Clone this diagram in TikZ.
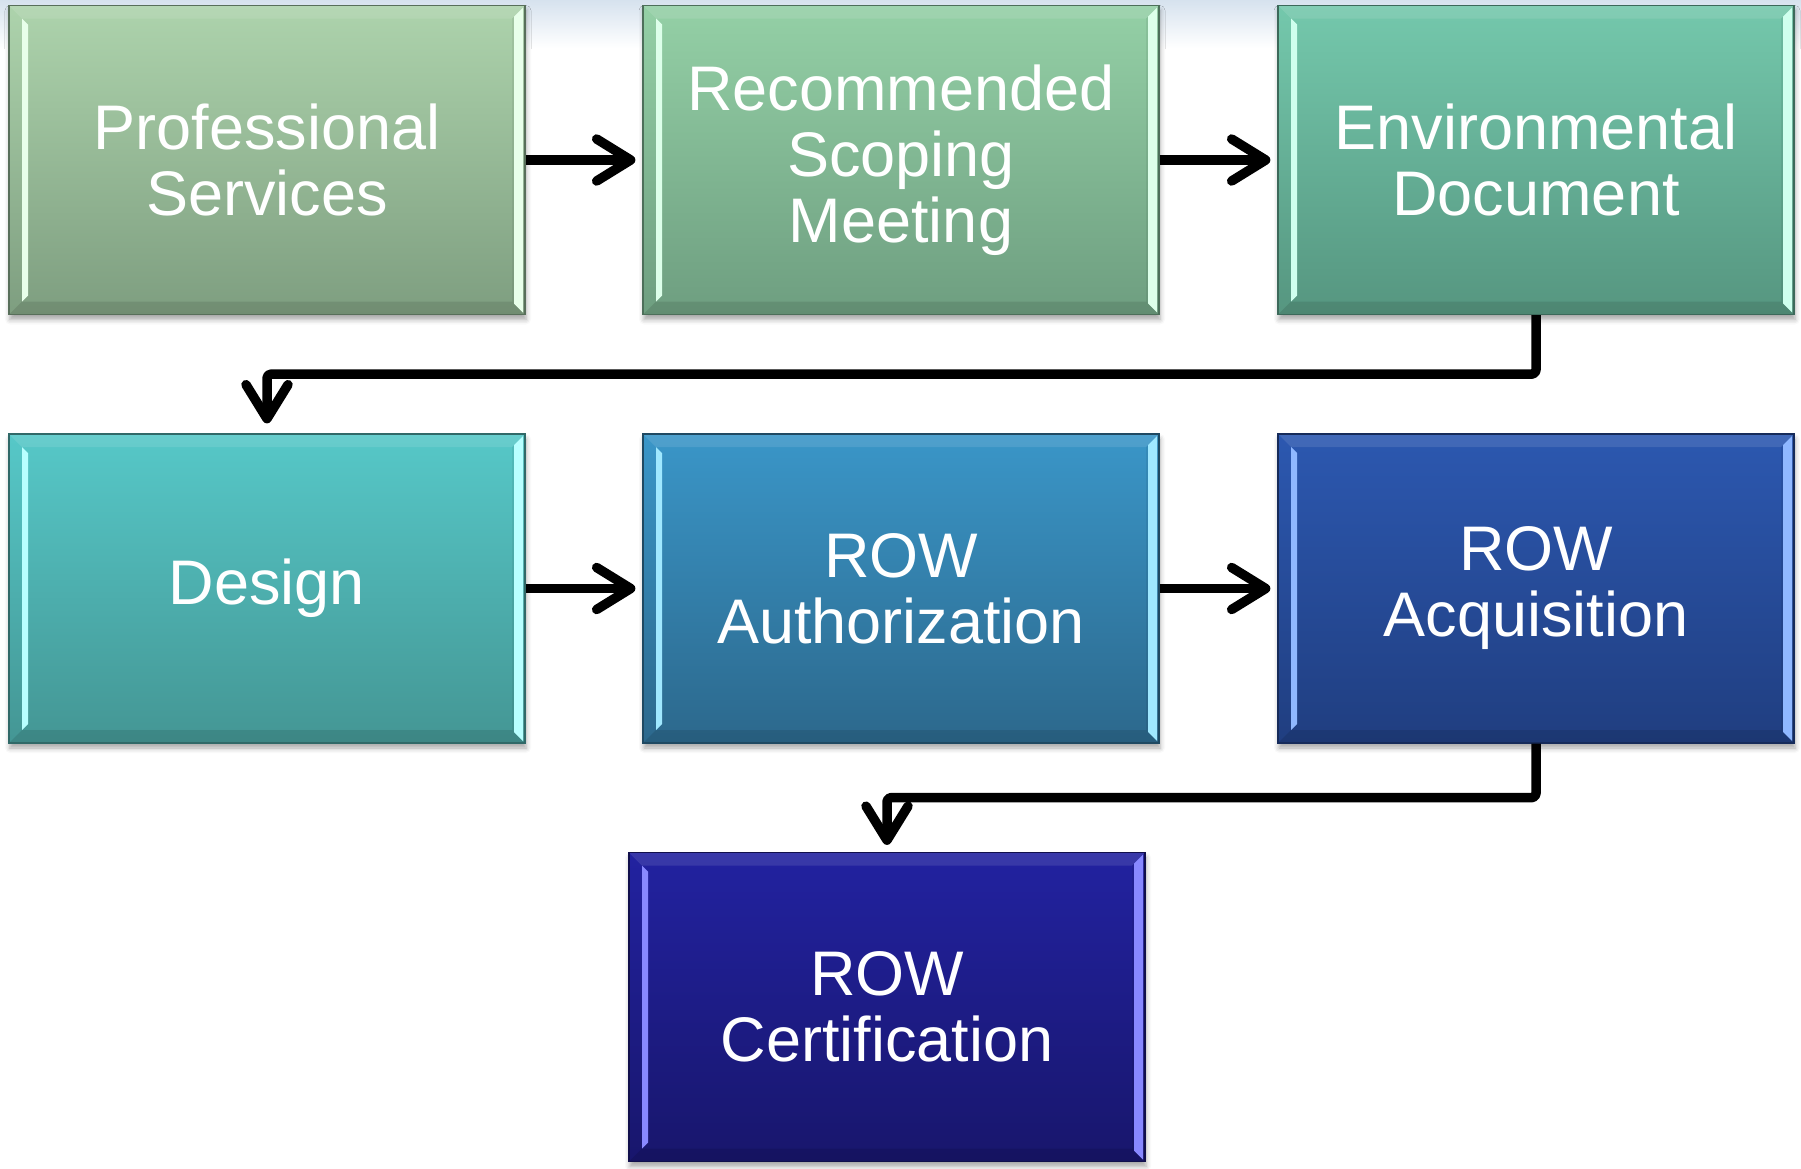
\documentclass[tikz,border=0pt]{standalone}
\usepackage{fontspec}
\setmainfont{Liberation Sans}
\usetikzlibrary{arrows.meta,shadows.blur}

\definecolor{aT}{HTML}{ADD3AC}\definecolor{aB}{HTML}{7E9E80}\definecolor{aL}{HTML}{E8FFEA}
\definecolor{bT}{HTML}{94D0A6}\definecolor{bB}{HTML}{6E9E80}\definecolor{bL}{HTML}{DDFFEA}
\definecolor{cT}{HTML}{74C8AC}\definecolor{cB}{HTML}{569680}\definecolor{cL}{HTML}{CFFFEE}
\definecolor{dT}{HTML}{56C8C8}\definecolor{dB}{HTML}{449694}\definecolor{dL}{HTML}{B8FFFF}
\definecolor{eT}{HTML}{3A96C8}\definecolor{eB}{HTML}{2C688C}\definecolor{eL}{HTML}{A0E8FF}
\definecolor{fT}{HTML}{2C58B0}\definecolor{fB}{HTML}{203E80}\definecolor{fL}{HTML}{90B8FF}
\definecolor{gT}{HTML}{2222A0}\definecolor{gB}{HTML}{18166C}\definecolor{gL}{HTML}{8888FF}
\definecolor{topglow}{HTML}{D6E2EE}

\tikzset{
  stepbox/.style={rectangle, minimum width=516pt, minimum height=309pt, inner sep=0pt,
    top color=#1T, bottom color=#1B, draw=#1B!70!black, line width=1.2pt,
    text=white, align=center, font=\fontsize{63}{66}\selectfont,
    blur shadow={shadow xshift=1pt, shadow yshift=-5pt, shadow blur radius=5pt, shadow opacity=35},
    path picture={
      % top bevel band
      \fill[white,opacity=0.10]
        (path picture bounding box.north west) -- (path picture bounding box.north east)
        -- ([xshift=-13pt,yshift=-13pt]path picture bounding box.north east)
        -- ([xshift=13pt,yshift=-13pt]path picture bounding box.north west) -- cycle;
      % bottom bevel band
      \fill[black,opacity=0.10]
        (path picture bounding box.south west) -- (path picture bounding box.south east)
        -- ([xshift=-13pt,yshift=13pt]path picture bounding box.south east)
        -- ([xshift=13pt,yshift=13pt]path picture bounding box.south west) -- cycle;
      % right bevel band
      \fill[black,opacity=0.06]
        (path picture bounding box.north east) -- (path picture bounding box.south east)
        -- ([xshift=-13pt,yshift=13pt]path picture bounding box.south east)
        -- ([xshift=-13pt,yshift=-13pt]path picture bounding box.north east) -- cycle;
      % left light stripe
      \fill[#1L]
        ([xshift=13pt,yshift=-13pt]path picture bounding box.north west)
        -- ([xshift=19pt,yshift=-19pt]path picture bounding box.north west)
        -- ([xshift=19pt,yshift=19pt]path picture bounding box.south west)
        -- ([xshift=13pt,yshift=13pt]path picture bounding box.south west) -- cycle;
      % right light stripe
      \fill[#1L]
        ([xshift=-2pt,yshift=-2pt]path picture bounding box.north east)
        -- ([xshift=-11pt,yshift=-11pt]path picture bounding box.north east)
        -- ([xshift=-11pt,yshift=11pt]path picture bounding box.south east)
        -- ([xshift=-2pt,yshift=2pt]path picture bounding box.south east) -- cycle;
    }},
  conn/.style={line width=9.5pt, draw=black, line join=round,
    -{Straight Barb[length=34pt,width=42pt,round]}},
}

\begin{document}
\begin{tikzpicture}[x=1pt,y=-1pt]
\useasboundingbox (0,0) rectangle (1801,1168);
\shade[top color=topglow, bottom color=white] (0,0) rectangle (1801,48);

\node[stepbox=a] (b1) at (267,160) {Professional\\Services};
\node[stepbox=b] (b2) at (901,160) {Recommended\\Scoping\\Meeting};
\node[stepbox=c] (b3) at (1536,160) {Environmental\\Document};
\node[stepbox=d] (b4) at (267,588.5) {Design};
\node[stepbox=e] (b5) at (901,588.5) {ROW\\Authorization};
\node[stepbox=f] (b6) at (1536,588.5) {ROW\\Acquisition};
\node[stepbox=g] (b7) at (887,1007) {ROW\\Certification};

\draw[conn, shorten >=7pt] (b1.east) -- (b2.west);
\draw[conn, shorten >=7pt] (b2.east) -- (b3.west);
\draw[conn, shorten >=7pt] (b4.east) -- (b5.west);
\draw[conn, shorten >=7pt] (b5.east) -- (b6.west);
\draw[conn, shorten >=10pt, rounded corners=4pt] (b3.south) -- ++(0,59) -| (b4.north);
\draw[conn, shorten >=7pt, rounded corners=4pt] (b6.south) -- ++(0,54) -| (b7.north);
\end{tikzpicture}
\end{document}
